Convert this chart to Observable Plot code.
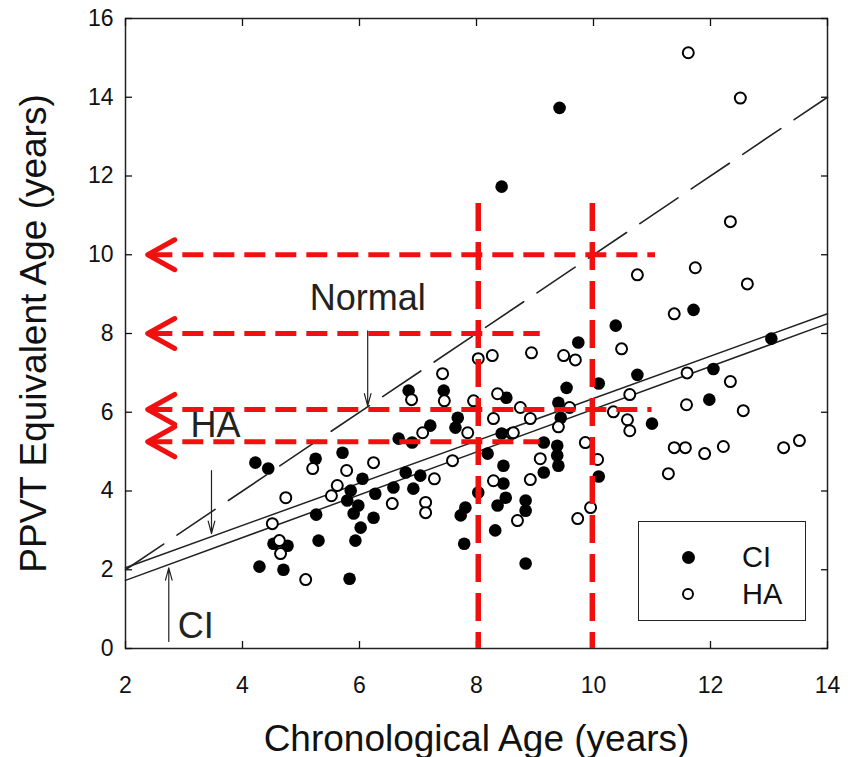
<!DOCTYPE html>
<html>
<head>
<meta charset="utf-8">
<script src="https://cdn.jsdelivr.net/npm/d3@7"></script>
<script src="https://cdn.jsdelivr.net/npm/@observablehq/plot@0.6"></script>
<style>
  html, body { margin: 0; padding: 0; background: #fff; }
  #wrap { position: relative; width: 855px; height: 757px; font-family: "Liberation Sans", Arial, Helvetica, sans-serif; color: #111; }
  #wrap svg [aria-label="x-axis label"] text, #wrap svg [aria-label="y-axis label"] text { font-size: 37px; }
  #legend { position: absolute; left: 638px; top: 521px; width: 166px; height: 98px; border: 1.5px solid #222; background: #fff; }
  #legend .row { position: absolute; left: 0; height: 34px; line-height: 34px; font-size: 29px; }
  #legend .sym { position: absolute; left: 43px; top: 11px; width: 13px; height: 13px; border-radius: 50%; box-sizing: border-box; }
  #legend .lab { position: absolute; left: 103px; top: 0; }
</style>
</head>
<body>
<div id="wrap">
  <div id="legend">
    <div class="row" style="top:18px"><span class="sym" style="background:#000"></span><span class="lab">CI</span></div>
    <div class="row" style="top:55px"><span class="sym" style="border:2px solid #000;background:#fff;width:12px;height:12px"></span><span class="lab">HA</span></div>
  </div>
</div>
<script>
// Axis ticks
const xTicks = [2, 4, 6, 8, 10, 12, 14];
const yTicks = [0, 2, 4, 6, 8, 10, 12, 14, 16];

// CI group (filled dots): chronological age, PPVT equivalent age
const ciAge = [4.22,4.44,5.25,5.71,5.26,4.53,4.77,5.30,4.29,4.70,5.83,
  6.84,7.44,7.21,6.67,6.90,6.05,6.79,7.04,6.58,6.27,6.92,5.85,5.98,6.24,6.02,5.93,5.79,5.90,
  8.51,7.68,7.64,8.43,8.19,8.46,8.46,8.50,8.03,8.36,7.81,7.73,8.32,7.79,
  9.74,9.54,9.40,9.44,9.15,9.38,9.38,9.40,9.15,8.84,8.84,8.84,
  10.38,10.75,10.09,12.05,13.04,11.98,11.00,10.09,11.71,9.42,8.43];
const ciPPVT = [4.72,4.57,4.82,4.97,3.40,2.66,2.61,2.74,2.08,2.00,1.77,
  6.55,6.55,5.66,5.33,5.23,4.31,4.47,4.39,4.09,3.93,4.06,4.01,3.63,3.32,3.07,2.74,3.76,3.43,
  6.37,5.86,5.61,5.46,4.95,4.64,4.19,3.83,3.96,3.63,3.58,3.38,3.00,2.66,
  7.77,6.62,6.24,5.86,5.23,5.15,4.90,4.64,4.47,3.76,3.50,2.16,
  8.20,6.95,6.73,7.10,7.87,6.32,5.71,4.37,8.60,13.73,11.73];

// HA group (open circles)
const haAge = [5.20,5.78,5.62,5.52,4.74,4.51,4.63,4.65,5.08,
  6.89,7.42,7.45,7.08,6.24,7.28,6.56,7.13,7.13,
  8.03,8.27,7.95,8.36,7.85,8.29,8.60,7.59,8.29,8.70,
  8.94,9.49,9.69,9.59,8.75,8.92,9.40,8.63,9.09,8.92,9.73,
  11.62,12.51,12.34,10.75,11.74,12.63,11.38,
  10.48,11.60,12.34,10.62,11.59,12.56,10.34,10.58,10.62,9.86,10.07,11.38,11.57,11.90,12.22,11.28,13.25,13.52,9.95];
const haPPVT = [4.57,4.52,4.14,3.88,3.83,3.17,2.74,2.41,1.75,
  6.32,6.98,6.29,5.48,4.72,4.31,3.68,3.71,3.45,
  7.36,7.44,6.29,6.47,5.48,5.84,5.46,4.77,4.26,3.25,
  7.51,7.44,7.33,6.12,6.12,5.84,5.63,5.48,4.82,4.29,3.30,
  15.13,13.98,10.84,9.49,9.67,9.26,8.50,
  7.61,7.00,6.78,6.45,6.19,6.04,6.01,5.81,5.53,5.23,4.80,5.10,5.10,4.95,5.13,4.44,5.10,5.28,3.58];

// Fitted lines
const lineAge = [2, 14];
const normalLine = [2, 14];
const haLine = [2.05, 8.5];
const ciLine = [1.73, 8.25];

// Red annotation guides
const redHy = [10, 8, 6.07, 5.25];
const redHx1 = [2.45, 2.45, 2.45, 2.45];
const redHx2 = [11.06, 9.09, 11.0, 9.09];
const redTip = 2.38;
const redVx = [8.03, 9.98];
const redVy1 = [11.3, 11.3];
const redVy2 = [0, 0];

// Black label arrows
const labelText = ["Normal", "HA", "CI"];
const labelX = [6.14, 3.54, 3.2];
const labelY = [8.9, 5.66, 0.56];
const arrX = [6.14, 3.47, 2.74];
const arrY1 = [8.07, 4.52, 0.18];
const arrY2 = [6.16, 2.92, 2.05];

const ci = ciAge.map((x, i) => ({x, y: ciPPVT[i]}));
const ha = haAge.map((x, i) => ({x, y: haPPVT[i]}));
const mkLine = (ys) => lineAge.map((x, i) => ({x, y: ys[i]}));
const redH = redHy.map((y, i) => ({y, x1: redHx1[i], x2: redHx2[i]}));
const redV = redVx.map((x, i) => ({x, y1: redVy1[i], y2: redVy2[i]}));
const labels = labelText.map((t, i) => ({t, x: labelX[i], y: labelY[i]}));
const arrows = arrX.map((x, i) => ({x, y1: arrY1[i], y2: arrY2[i]}));

const chevron = { draw(ctx) { ctx.moveTo(27, -15); ctx.lineTo(0, 0); ctx.lineTo(27, 15); } };
const RED = "#f01010";
const blank = () => "";

const chart = Plot.plot({
  width: 855, height: 757,
  marginLeft: 125, marginRight: 28, marginTop: 18, marginBottom: 109,
  style: { fontFamily: "'Liberation Sans', Arial, Helvetica, sans-serif", fontSize: "23px", background: "#fff", color: "#111" },
  x: { domain: [2, 14] },
  y: { domain: [0, 16] },
  marks: [
    Plot.frame({ stroke: "#222", strokeWidth: 1.5 }),
    // labels
    Plot.axisX({ ticks: xTicks, tickSize: 0, tickPadding: 28, tickFormat: d => d, label: "Chronological Age (years)", labelAnchor: "center", labelOffset: 102, labelArrow: "none" }),
    Plot.axisY({ ticks: yTicks, tickSize: 0, tickPadding: 12, tickFormat: d => d, label: "PPVT Equivalent Age (years)", labelAnchor: "center", labelOffset: 106, labelArrow: "none" }),
    // inward ticks on all four sides
    Plot.axisX({ ticks: xTicks, tickSize: 7, dy: -7, tickFormat: blank, label: null, strokeWidth: 1.3 }),
    Plot.axisX({ anchor: "top", ticks: xTicks, tickSize: 7, dy: 7, tickFormat: blank, label: null, strokeWidth: 1.3 }),
    Plot.axisY({ ticks: yTicks, tickSize: 7, dx: 7, tickFormat: blank, label: null, strokeWidth: 1.3 }),
    Plot.axisY({ anchor: "right", ticks: yTicks, tickSize: 7, dx: -7, tickFormat: blank, label: null, strokeWidth: 1.3 }),
    Plot.line(mkLine(normalLine), { x: "x", y: "y", stroke: "#222", strokeWidth: 1.6, strokeDasharray: "46,16" }),
    Plot.line(mkLine(haLine), { x: "x", y: "y", stroke: "#222", strokeWidth: 1.5 }),
    Plot.line(mkLine(ciLine), { x: "x", y: "y", stroke: "#222", strokeWidth: 1.5 }),
    Plot.dot(ci, { x: "x", y: "y", r: 6.3, fill: "#000", stroke: "none" }),
    Plot.dot(ha, { x: "x", y: "y", r: 5.5, fill: "#fff", stroke: "#000", strokeWidth: 2 }),
    Plot.arrow(arrows, { x: "x", y1: "y1", y2: "y2", stroke: "#222", strokeWidth: 1.2, headLength: 16, headAngle: 30 }),
    Plot.text(labels, { x: "x", y: "y", text: "t", fontSize: 36, fill: "#222" }),
    Plot.ruleY(redH, { y: "y", x1: "x1", x2: "x2", stroke: RED, strokeWidth: 5, strokeDasharray: "21,10" }),
    Plot.ruleX(redV, { x: "x", y1: "y1", y2: "y2", stroke: RED, strokeWidth: 5.5, strokeDasharray: "28,11" }),
    Plot.dot(redH, { x: () => redTip, y: "y", symbol: chevron, fill: "none", stroke: RED, strokeWidth: 5, strokeLinecap: "round", strokeLinejoin: "round" })
  ]
});
document.getElementById("wrap").prepend(chart);
</script>
</body>
</html>
